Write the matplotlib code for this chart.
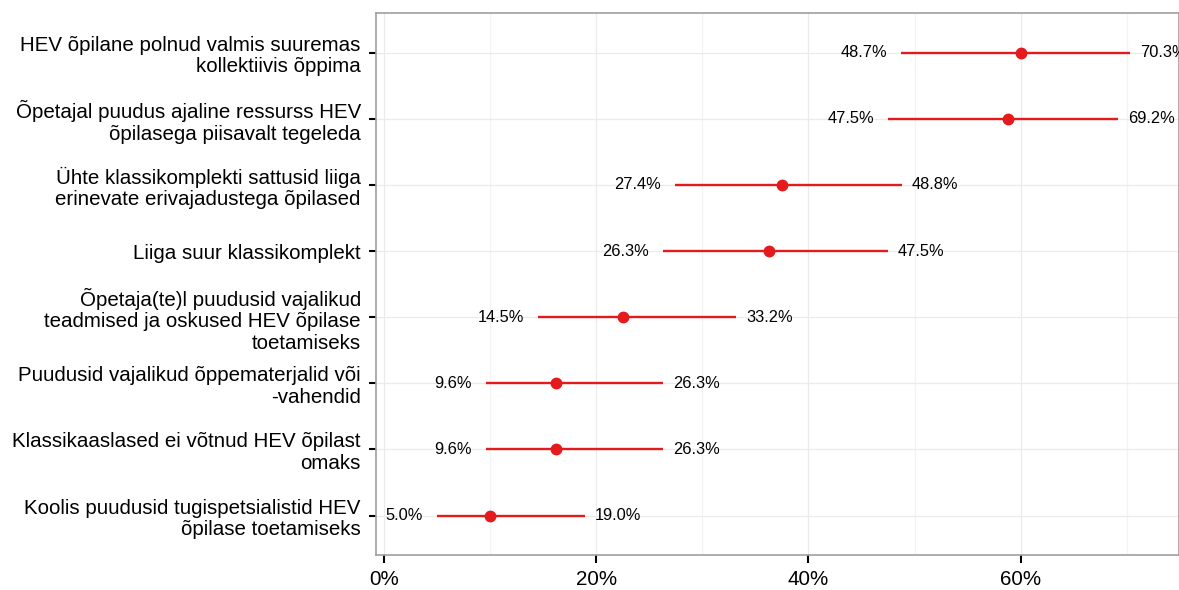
import numpy as np
import matplotlib.pyplot as plt
from matplotlib.ticker import MultipleLocator, FuncFormatter

plt.rcParams['font.family'] = ['Liberation Sans', 'DejaVu Sans']

# Andmed (ülevalt alla)
categories = [
    "HEV õpilane polnud valmis suuremas\nkollektiivis õppima",
    "Õpetajal puudus ajaline ressurss HEV\nõpilasega piisavalt tegeleda",
    "Ühte klassikomplekti sattusid liiga\nerinevate erivajadustega õpilased",
    "Liiga suur klassikomplekt",
    "Õpetaja(te)l puudusid vajalikud\nteadmised ja oskused HEV õpilase\ntoetamiseks",
    "Puudusid vajalikud õppematerjalid või\n-vahendid",
    "Klassikaaslased ei võtnud HEV õpilast\nomaks",
    "Koolis puudusid tugispetsialistid HEV\nõpilase toetamiseks",
]
estimate = [60.0, 58.75, 37.5, 36.25, 22.5, 16.25, 16.25, 10.0]
lower = [48.7, 47.5, 27.4, 26.3, 14.5, 9.6, 9.6, 5.0]
upper = [70.3, 69.2, 48.8, 47.5, 33.2, 26.3, 26.3, 19.0]

red = "#E41A1C"
n = len(categories)
ypos = np.arange(n, 0, -1)

fig = plt.figure(figsize=(11.79, 5.90), dpi=100)
ax = fig.add_axes([0.319, 0.059, 0.681, 0.919])

ax.hlines(ypos, lower, upper, color=red, linewidth=1.7, zorder=3)
ax.plot(estimate, ypos, 'o', color=red, markersize=7.5, zorder=4)

for y, lo, hi in zip(ypos, lower, upper):
    ax.annotate(f"{lo:.1f}%", (lo, y), xytext=(-10, 0), textcoords='offset points',
                ha='right', va='center', fontsize=11.8)
    ax.annotate(f"{hi:.1f}%", (hi, y), xytext=(7, 0), textcoords='offset points',
                ha='left', va='center', fontsize=11.8)

ax.set_xlim(-0.72, 74.9)
ax.set_ylim(0.4, n + 0.6)
ax.set_yticks(ypos)
ax.set_yticklabels(categories, fontsize=14.8, ha='right', multialignment='right',
                   linespacing=1.16)
ax.xaxis.set_major_locator(MultipleLocator(20))
ax.xaxis.set_minor_locator(MultipleLocator(10))
ax.xaxis.set_major_formatter(FuncFormatter(lambda v, p: f"{v:.0f}%"))
ax.tick_params(axis='x', which='major', labelsize=14.8, length=6, width=1.5, color='black', pad=5)
ax.tick_params(axis='x', which='minor', length=0)
ax.tick_params(axis='y', length=5, width=1.5, color='black', pad=6)

ax.grid(True, which='major', color='#ebebeb', linewidth=0.9, zorder=0)
ax.grid(True, which='minor', axis='x', color='#f3f3f3', linewidth=0.9, zorder=0)
ax.set_axisbelow(True)

for s in ax.spines.values():
    s.set_color('#a0a0a0')
    s.set_linewidth(1.2)

fig.savefig("out.png", dpi=100)
